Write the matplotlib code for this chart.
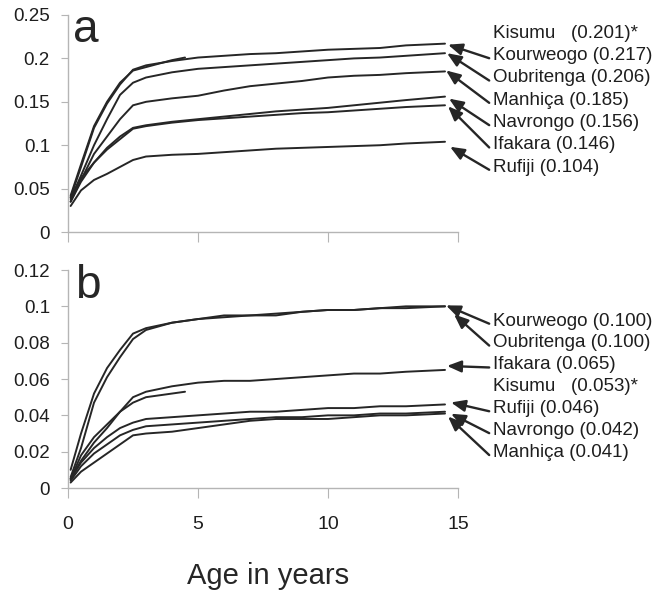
import matplotlib
matplotlib.use("Agg")
import matplotlib.pyplot as plt

plt.rcParams["font.family"] = ["Liberation Sans", "DejaVu Sans"]

# age points (years) shared by the full-length curves
ages = [0.1, 0.5, 1, 1.5, 2, 2.5, 3, 4, 5, 6, 7, 8, 9, 10, 11, 12, 13, 14.5]
kisumu_ages = [0.1, 0.5, 1, 1.5, 2, 2.5, 3, 3.5, 4, 4.5]

# panel a
a_kisumu = [0.042, 0.078, 0.122, 0.150, 0.172, 0.186, 0.190, 0.194, 0.198, 0.201]
a_kourweogo = [0.040, 0.075, 0.120, 0.148, 0.170, 0.187, 0.192, 0.197, 0.201, 0.203,
               0.205, 0.206, 0.208, 0.210, 0.211, 0.212, 0.215, 0.217]
a_oubritenga = [0.038, 0.065, 0.100, 0.130, 0.158, 0.172, 0.178, 0.184, 0.188, 0.190,
                0.192, 0.194, 0.196, 0.198, 0.200, 0.201, 0.203, 0.206]
a_manhica = [0.035, 0.060, 0.090, 0.110, 0.130, 0.146, 0.150, 0.154, 0.157, 0.163,
             0.168, 0.171, 0.174, 0.178, 0.180, 0.181, 0.183, 0.185]
a_navrongo = [0.035, 0.058, 0.080, 0.097, 0.110, 0.120, 0.123, 0.127, 0.130, 0.133,
              0.136, 0.139, 0.141, 0.143, 0.146, 0.149, 0.152, 0.156]
a_ifakara = [0.040, 0.062, 0.080, 0.095, 0.107, 0.119, 0.122, 0.126, 0.129, 0.131,
             0.133, 0.135, 0.137, 0.138, 0.140, 0.142, 0.144, 0.146]
a_rufiji = [0.030, 0.048, 0.060, 0.067, 0.075, 0.083, 0.087, 0.089, 0.090, 0.092,
            0.094, 0.096, 0.097, 0.098, 0.099, 0.100, 0.102, 0.104]

# panel b
b_kisumu = [0.005, 0.018, 0.028, 0.035, 0.042, 0.047, 0.050, 0.051, 0.052, 0.053]
b_kourweogo = [0.010, 0.030, 0.052, 0.066, 0.076, 0.085, 0.088, 0.091, 0.093, 0.094,
               0.095, 0.096, 0.097, 0.098, 0.098, 0.099, 0.099, 0.100]
b_oubritenga = [0.006, 0.022, 0.047, 0.061, 0.072, 0.082, 0.087, 0.091, 0.093, 0.095,
                0.095, 0.095, 0.097, 0.098, 0.098, 0.099, 0.100, 0.100]
b_ifakara = [0.005, 0.015, 0.025, 0.033, 0.042, 0.050, 0.053, 0.056, 0.058, 0.059,
             0.059, 0.060, 0.061, 0.062, 0.063, 0.063, 0.064, 0.065]
b_rufiji = [0.005, 0.014, 0.022, 0.028, 0.033, 0.036, 0.038, 0.039, 0.040, 0.041,
            0.042, 0.042, 0.043, 0.044, 0.044, 0.045, 0.045, 0.046]
b_navrongo = [0.004, 0.012, 0.019, 0.024, 0.029, 0.032, 0.034, 0.035, 0.036, 0.037,
              0.038, 0.039, 0.039, 0.040, 0.040, 0.041, 0.041, 0.042]
b_manhica = [0.003, 0.009, 0.014, 0.019, 0.024, 0.029, 0.030, 0.031, 0.033, 0.035,
             0.037, 0.038, 0.038, 0.038, 0.039, 0.040, 0.040, 0.041]

a_labels = ["Kisumu   (0.201)*", "Kourweogo (0.217)", "Oubritenga (0.206)",
            "Manhiça (0.185)", "Navrongo (0.156)", "Ifakara (0.146)", "Rufiji (0.104)"]
b_labels = ["Kourweogo (0.100)", "Oubritenga (0.100)", "Ifakara (0.065)",
            "Kisumu   (0.053)*", "Rufiji (0.046)", "Navrongo (0.042)", "Manhiça (0.041)"]

LINE = "#262626"
SPINE = "#b5b5b5"
TEXT = "#1e1e1e"

fig = plt.figure(figsize=(6.63, 5.95), dpi=100)
ax_a = fig.add_axes([0.1026, 0.610, 0.5882, 0.3648])
ax_b = fig.add_axes([0.1026, 0.1798, 0.5882, 0.3664])


def style(ax, ymax, step, show_x):
    ax.set_xlim(0, 15)
    ax.set_ylim(0, ymax)
    ax.set_xticks([0, 5, 10, 15])
    ticks = [round(i * step, 3) for i in range(int(round(ymax / step)) + 1)]
    ax.set_yticks(ticks)
    ax.set_yticklabels([("%g" % t) for t in ticks])
    for s in ["top", "right"]:
        ax.spines[s].set_visible(False)
    for s in ["left", "bottom"]:
        ax.spines[s].set_color(SPINE)
        ax.spines[s].set_linewidth(1)
    ax.tick_params(axis="y", direction="out", length=5, color=SPINE,
                   labelsize=13.5, pad=8, labelcolor=TEXT)
    ax.tick_params(axis="x", direction="out", length=7, color=SPINE,
                   labelsize=14, pad=13, labelcolor=TEXT,
                   labelbottom=show_x)


def draw(ax, series, labels, label_top, label_step, tip_offsets):
    for name, (x, y) in series.items():
        ax.plot(x, y, color=LINE, lw=1.4, solid_capstyle="round",
                solid_joinstyle="round")
    for i, lab in enumerate(labels):
        ty = label_top - i * label_step
        ax.text(16.35, ty, lab, fontsize=13.5, va="center", ha="left",
                color=TEXT, clip_on=False)
        key = lab.split(" ")[0]
        if key == "Kisumu":
            continue
        x, y = series[key]
        dx, dy = tip_offsets[key]
        tip = ax.transData.transform((x[-1], y[-1]))
        tip = ax.transData.inverted().transform((tip[0] + dx, tip[1] + dy))
        ax.annotate("", xy=tip, xytext=(16.2, ty - label_step * 0.12),
                    annotation_clip=False,
                    arrowprops=dict(arrowstyle="-|>,head_length=0.85,head_width=0.35",
                                    color=LINE, lw=1.7, shrinkA=0, shrinkB=0))


series_a = {
    "Kisumu": (kisumu_ages, a_kisumu),
    "Kourweogo": (ages, a_kourweogo),
    "Oubritenga": (ages, a_oubritenga),
    "Manhiça": (ages, a_manhica),
    "Navrongo": (ages, a_navrongo),
    "Ifakara": (ages, a_ifakara),
    "Rufiji": (ages, a_rufiji),
}
series_b = {
    "Kisumu": (kisumu_ages, b_kisumu),
    "Kourweogo": (ages, b_kourweogo),
    "Oubritenga": (ages, b_oubritenga),
    "Ifakara": (ages, b_ifakara),
    "Rufiji": (ages, b_rufiji),
    "Navrongo": (ages, b_navrongo),
    "Manhiça": (ages, b_manhica),
}

# arrow tip offsets from each line end, in pixels
tips_a = {"Kourweogo": (3, -1), "Oubritenga": (2, 0), "Manhiça": (1, 1),
          "Navrongo": (4, -2), "Ifakara": (3, -1), "Rufiji": (5, -5)}
tips_b = {"Kourweogo": (1, 1), "Oubritenga": (9, -8), "Ifakara": (2, 4),
          "Rufiji": (6, 2), "Navrongo": (6, -2), "Manhiça": (3, -3)}

style(ax_a, 0.25, 0.05, False)
style(ax_b, 0.12, 0.02, True)
draw(ax_a, series_a, a_labels, 0.229, 0.0257, tips_a)
draw(ax_b, series_b, b_labels, 0.0919, 0.01205, tips_b)

fig.text(73 / 663, 1 - 42 / 595, "a", fontsize=33, color=LINE, va="baseline")
fig.text(75 / 663, 1 - 298 / 595, "b", fontsize=33, color=LINE, va="baseline")
fig.text(268 / 663, 1 - 576 / 595, "Age in years", fontsize=21, color=LINE,
         ha="center", va="center")

fig.savefig("out.png", dpi=100, facecolor="white")
plt.close(fig)
